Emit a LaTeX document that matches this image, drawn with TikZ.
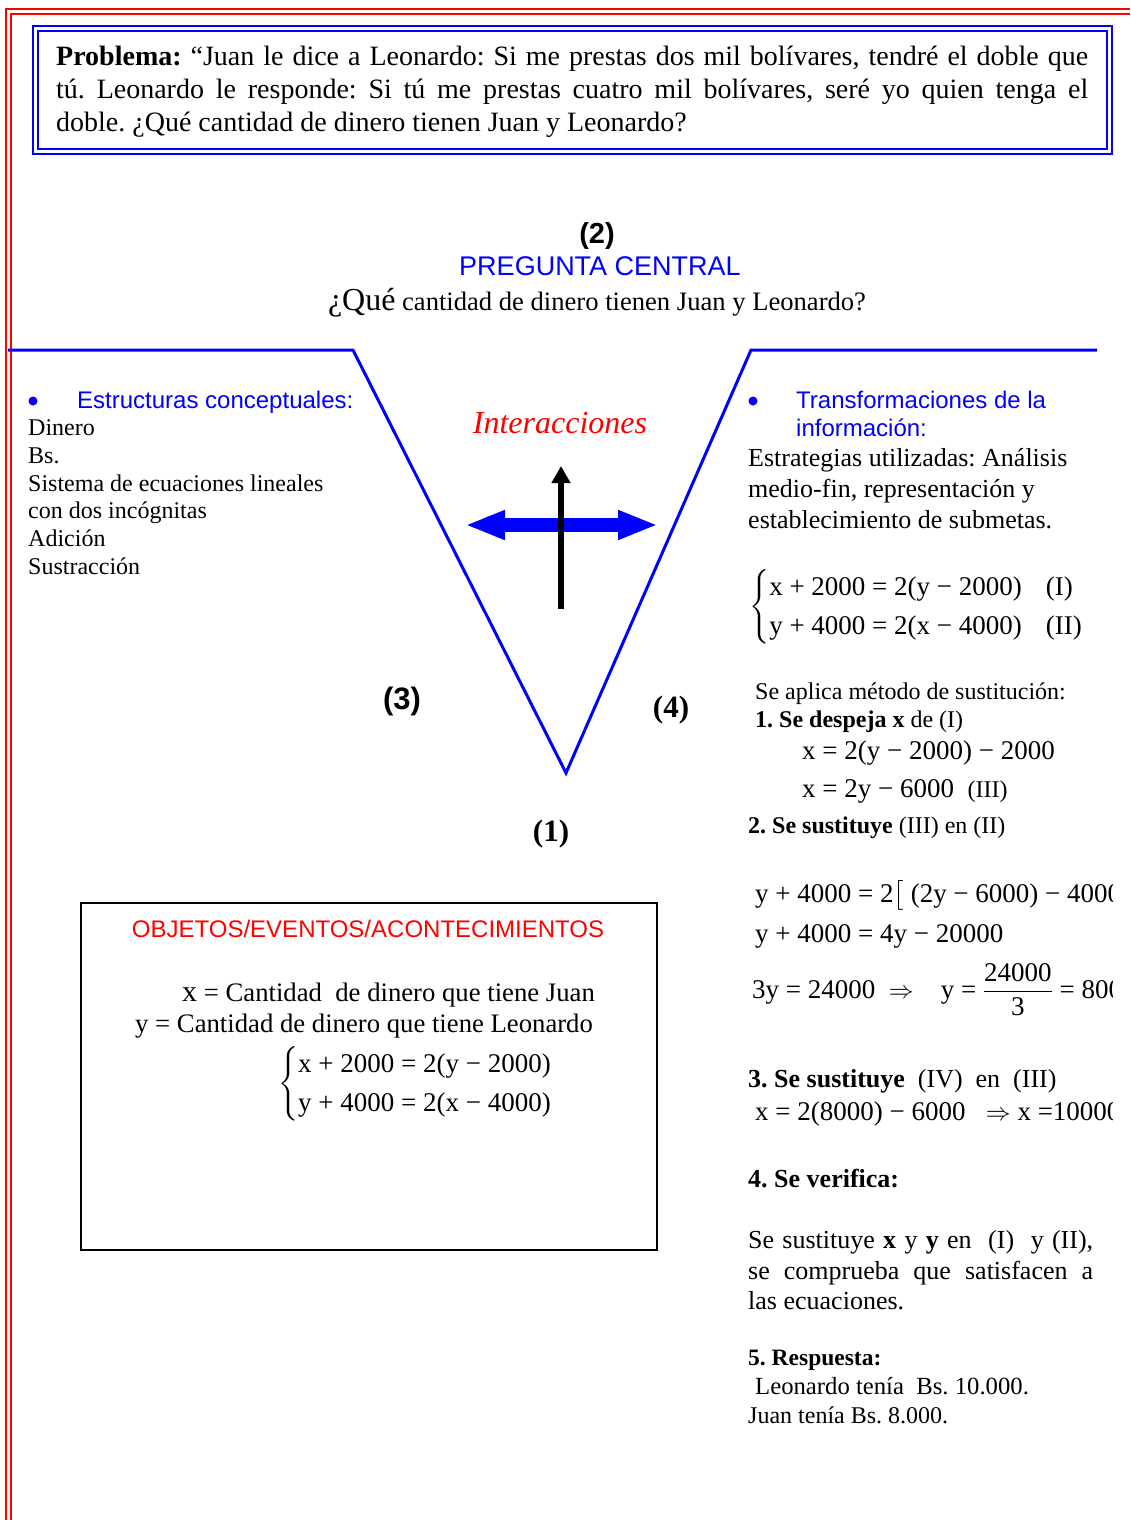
\documentclass[tikz,border=0pt]{standalone}
\usepackage{amsmath}
\usepackage{fontspec}
\setmainfont{Liberation Serif}
\newfontfamily\arialfont{Liberation Sans}
\usetikzlibrary{arrows.meta}
\frenchspacing

\tikzset{
  txt/.style={anchor=base west, inner sep=0pt},
  probtxt/.style={txt, font=\fontsize{28}{33}\selectfont},
  listtxt/.style={txt, font=\fontsize{24}{28}\selectfont},
  righttxt/.style={txt, font=\fontsize{26}{31}\selectfont},
  eqtxt/.style={txt, font=\fontsize{27}{39}\selectfont},
  bluehead/.style={txt, text=blue, font=\arialfont\fontsize{24}{28}\selectfont},
  dot/.style={circle, fill=blue, inner sep=0pt, minimum size=9pt},
  numlabel/.style={inner sep=0pt, font=\fontsize{31}{34}\selectfont\bfseries},
  vline/.style={blue, line width=3pt},
}
\newcommand{\eqsystem}[2]{\delimiterfactor=800\delimitershortfall=14pt
  $\left\{\begin{tabular}{@{}l@{}}#1\\ #2\end{tabular}\right.$}

\begin{document}
\begin{tikzpicture}[x=1pt,y=-1pt]
\useasboundingbox (0,0) rectangle (1130,1520);

% Page border
\draw[red,line width=2.5pt] (6,1520) -- (6,9) -- (1130,9);
\draw[red,line width=2pt] (11,1520) -- (11,14) -- (1130,14);

% Problem box
\draw[blue,line width=2.5pt] (33,26) rectangle (1112,154);
\draw[blue,line width=1.5pt] (38,31) rectangle (1107,149);
\node[probtxt] (prob1) at (56,66) {\makebox[1032pt][s]{\textbf{Problema:} “Juan le dice a Leonardo: Si me prestas dos mil bolívares, tendré el doble que}};
\node[probtxt] (prob2) at (56,99) {\makebox[1032pt][s]{tú. Leonardo le responde: Si tú me prestas cuatro mil bolívares, seré yo quien tenga el}};
\node[probtxt] (prob3) at (56,131) {doble. ¿Qué cantidad de dinero tienen Juan y Leonardo?};

% Central question
\node[inner sep=0pt, anchor=base, font=\arialfont\bfseries\fontsize{29}{32}\selectfont] (num2) at (597,243) {(2)};
\node[inner sep=0pt, anchor=base, text=blue, font=\arialfont\fontsize{27}{30}\selectfont] (central) at (600,275) {PREGUNTA CENTRAL};
\node[inner sep=0pt, anchor=base, font=\fontsize{26.6}{30}\selectfont] (question) at (597,310) {{\fontsize{32}{34}\selectfont ¿Qué} cantidad de dinero tienen Juan y Leonardo?};

% V diagram
\draw[vline] (8,350) -- (353,350) -- (566,773) -- (751,350) -- (1097,350);

% Conceptual side
\node[dot] (bulletL) at (33,401) {};
\node[bluehead] (concept) at (77,408) {Estructuras conceptuales:};
\node[listtxt] (l1) at (28,435) {Dinero};
\node[listtxt] (l2) at (28,463) {Bs.};
\node[listtxt] (l3) at (28,491) {Sistema de ecuaciones lineales};
\node[listtxt] (l4) at (28,518) {con dos incógnitas};
\node[listtxt] (l5) at (28,546) {Adición};
\node[listtxt] (l6) at (28,574) {Sustracción};

% Interactions
\node[inner sep=0pt, anchor=base, text=red, font=\itshape\fontsize{32}{36}\selectfont] (inter) at (560,433) {Interacciones};
\coordinate (hl) at (465,525);
\coordinate (hr) at (658,525);
\draw[blue, line width=14pt, {Triangle[length=40pt,width=27pt]}-{Triangle[length=40pt,width=27pt]}] (hl) -- (hr);
\coordinate (vb) at (561,609);
\coordinate (vt) at (561,466);
\draw[line width=6.5pt, -{Triangle[length=17pt,width=18pt]}] (vb) -- (vt);

% Numbers
\node[numlabel, font=\arialfont\bfseries\fontsize{31}{34}\selectfont] (num3) at (402,701) {(3)};
\node[numlabel] (num4) at (671,710) {(4)};
\node[numlabel] (num1) at (551,834) {(1)};

% Objects box
\draw[line width=2pt] (81,903) rectangle (657,1250);
\node[inner sep=0pt, anchor=base, text=red, font=\arialfont\fontsize{24}{28}\selectfont] (objects) at (368,937) {OBJETOS/EVENTOS/ACONTECIMIENTOS};
\node[eqtxt, font=\fontsize{26.7}{30}\selectfont] (defx) at (182,1001) {{\fontsize{30}{32}\selectfont x} = Cantidad\ \ de dinero que tiene Juan};
\node[eqtxt, font=\fontsize{26.7}{30}\selectfont] (defy) at (135,1032) {y = Cantidad de dinero que tiene Leonardo};
\node[eqtxt] (sysA) at (278,1090) {\eqsystem{x + 2000 = 2(y − 2000)}{y + 4000 = 2(x − 4000)}};

% Transformation side
\node[dot] (bulletR) at (753,401) {};
\node[bluehead] (transf1) at (796,408) {Transformaciones de la};
\node[bluehead] (transf2) at (796,436) {información:};
\node[righttxt] (r1) at (748,466) {Estrategias utilizadas: Análisis};
\node[righttxt] (r2) at (748,497) {medio-fin, representación y};
\node[righttxt] (r3) at (748,528) {establecimiento de submetas.};
\node[eqtxt] (sysB) at (749,613) {\eqsystem{x + 2000 = 2(y − 2000)\hspace{24pt}(I)}{y + 4000 = 2(x − 4000)\hspace{24pt}(II)}};

% Steps
\node[listtxt] (s0) at (755,699) {Se aplica método de sustitución:};
\node[listtxt] (s1) at (755,727) {\textbf{1. Se despeja x} de (I)};
\node[eqtxt] (s1a) at (802,759) {x = 2(y − 2000) − 2000};
\node[eqtxt] (s1b) at (802,797) {x = 2y − 6000\ \ {\fontsize{24}{27}\selectfont(III)}};
\node[listtxt] (s2) at (748,833) {\textbf{2. Se sustituye} (III) en (II)};
\begin{scope}
\clip (0,0) rectangle (1112,1520);
\node[eqtxt] (s2a) at (755,902) {y + 4000 = 2$\bigl[$\ (2y − 6000) − 4000$\bigr]$};
\node[eqtxt] (s2b) at (755,942) {y + 4000 = 4y − 20000};
\node[eqtxt] (s2c) at (752,998) {3y = 24000\ \ $\Rightarrow$\quad y = $\dfrac{\mbox{24000}}{\mbox{3}}$ = 8000};
\node[eqtxt] (s3a) at (755,1120) {x = 2(8000) − 6000\ \ \ $\Rightarrow$ x =10000};
\end{scope}
\node[righttxt] (s3) at (748,1087) {\textbf{3. Se sustituye}\ \ (IV)\ \ en\ \ (III)};
\node[righttxt] (s4) at (748,1187) {\textbf{4. Se verifica:}};
\node[righttxt] (v1) at (748,1248) {\makebox[345pt][s]{Se sustituye \textbf{x} y \textbf{y} en\ \ (I)\ \ y (II),}};
\node[righttxt] (v2) at (748,1279) {\makebox[345pt][s]{se comprueba que satisfacen a}};
\node[righttxt] (v3) at (748,1309) {las ecuaciones.};
\node[righttxt, font=\fontsize{23.5}{27}\selectfont] (s5) at (748,1365) {\textbf{5. Respuesta:}};
\node[listtxt, font=\fontsize{24.7}{28}\selectfont] (ans1) at (755,1394) {Leonardo tenía\ \ Bs. 10.000.};
\node[listtxt] (ans2) at (748,1423) {Juan tenía Bs. 8.000.};

\end{tikzpicture}
\end{document}
